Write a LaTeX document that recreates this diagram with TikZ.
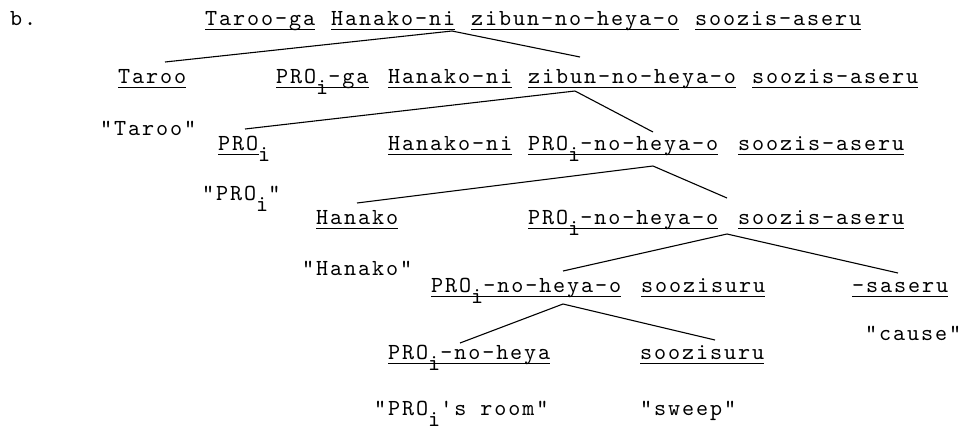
\documentclass[tikz,border=0pt]{standalone}
\usepackage{fontspec}
\newfontfamily\tw{lmmono10-regular}[Extension=.otf,LetterSpace=8.3]
\newcommand\sbi{\raisebox{-11pt}{i}}
\tikzset{
  word/.style={inner sep=0pt, anchor=base west, font=\fontsize{23}{27}\selectfont\tw},
  uline/.style={line width=1.2pt},
  branch/.style={line width=1.1pt}
}
\begin{document}
\begin{tikzpicture}[x=1pt,y=-1pt]
\useasboundingbox (0,0) rectangle (969,432);
\node[word] (lb) at (10,25) {b.};
% row 1
\node[word] (a1) at (205,25) {Taroo-ga};
\node[word] (a2) at (331,25) {Hanako-ni};
\node[word] (a3) at (471,25) {zibun-no-heya-o};
\node[word] (a4) at (695,25) {soozis-aseru};
% row 2
\node[word] (b1) at (118,83) {Taroo};
\node[word] (b2) at (276,83) {PRO\sbi-ga};
\node[word] (b3) at (388,83) {Hanako-ni};
\node[word] (b4) at (528,83) {zibun-no-heya-o};
\node[word] (b5) at (752,83) {soozis-aseru};
% row 3
\node[word] (qTaroo) at (100,135) {"Taroo"};
\node[word] (c1) at (218,150) {PRO\sbi};
\node[word] (c2) at (388,150) {Hanako-ni};
\node[word] (c3) at (528,150) {PRO\sbi-no-heya-o};
\node[word] (c4) at (738,150) {soozis-aseru};
% row 4
\node[word] (qPRO) at (202,200) {"PRO\sbi"};
\node[word] (d1) at (316,224) {Hanako};
\node[word] (d2) at (528,224) {PRO\sbi-no-heya-o};
\node[word] (d3) at (738,224) {soozis-aseru};
% row 5
\node[word] (qHanako) at (302,275) {"Hanako"};
\node[word] (e1) at (431,292) {PRO\sbi-no-heya-o};
\node[word] (e2) at (641,292) {soozisuru};
\node[word] (e3) at (852,292) {-saseru};
% row 6
\node[word] (f1) at (388,359) {PRO\sbi-no-heya};
\node[word] (f2) at (640,359) {soozisuru};
\node[word] (qcause) at (865,340) {"cause"};
% row 7
\node[word] (qroom) at (374,415) {"PRO\sbi's room"};
\node[word] (qsweep) at (640,415) {"sweep"};
% underlines
\foreach \n in {a1,a2,a3,a4,b1,b2,b3,b4,b5,c2,c3,c4,d1,d2,d3,e1,e2,e3,f1,f2}
  \draw[uline] ([yshift=-4.5pt]\n.base west) -- ([yshift=-4.5pt]\n.base east);
\draw[uline] ([yshift=-4.5pt]c1.base west) -- ++(41,0);
% branch points and ends
\coordinate (p1) at (452,31);
\coordinate (p1l) at (165,62);
\coordinate (p1r) at (580,57);
\coordinate (p2) at (575,91);
\coordinate (p2l) at (245,129);
\coordinate (p2r) at (653,132);
\coordinate (p3) at (653,166);
\coordinate (p3l) at (357,203);
\coordinate (p3r) at (727,198);
\coordinate (p4) at (727,234);
\coordinate (p4l) at (563,271);
\coordinate (p4r) at (898,273);
\coordinate (p5) at (563,304);
\coordinate (p5l) at (460,343);
\coordinate (p5r) at (715,340);
\foreach \k in {p1,p2,p3,p4,p5}{
  \draw[branch] (\k) -- (\k l);
  \draw[branch] (\k) -- (\k r);
}
\end{tikzpicture}
\end{document}
